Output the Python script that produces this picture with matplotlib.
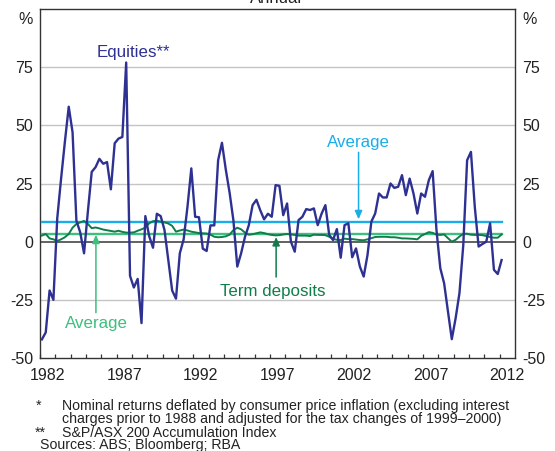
import numpy as np
import matplotlib
matplotlib.use("Agg")
import matplotlib.pyplot as plt
from matplotlib.ticker import FixedLocator
from matplotlib import transforms

plt.rcParams['font.family'] = ['Liberation Sans', 'DejaVu Sans']
plt.rcParams['axes.unicode_minus'] = False

# ---------------- data ----------------
start_year = 1982          # first quarter: 1982 Q1, quarterly to 2012 Q1
equities = [
    -42, -39, -21, -25,
    10, 27, 43, 58,
    47, 9, 4, -5,
    13, 30, 32, 35.6,
    33.5, 34.2, 22.5, 42.3,
    44.3, 45, 77, -14.7,
    -19.7, -16, -35, 11,
    2.4, -2.6, 12, 11,
    5, -8, -21, -24.5,
    -5, 1, 15, 31.5,
    10.7, 10.5, -3, -4,
    7, 7, 35, 42.5,
    31, 21, 9, -10.7,
    -5, 2, 7, 15.7,
    18, 13.5, 9.6, 12,
    10.7, 24.3, 24, 11.4,
    16.4, 0, -4.3, 9.3,
    10.7, 14, 13.6, 14.3,
    7.1, 12, 15.7, 2.9,
    0.7, 5.4, -6.9, 7.1,
    7.9, -6.7, -2.9, -10.7,
    -15, -5.7, 8.6, 12.1,
    20.7, 19, 19, 25,
    23.1, 23.6, 28.6, 20,
    27.1, 20.7, 12.1, 20.7,
    19.3, 26.4, 30.3, 5,
    -11.4, -17.9, -30, -41.9,
    -32.9, -22.1, -1.4, 35,
    38.6, 15, -2.1, -1,
    0, 7.9, -12.1, -13.9,
    -7.9,
]
term_deposits = [
    2.6, 3.3, 1.4, 1.0,
    0.3, 1.0, 1.9, 3.3,
    6.0, 7.6, 8.3, 8.9,
    7.6, 5.8, 6.1, 5.7,
    5.2, 4.9, 4.6, 4.3,
    4.7, 4.2, 3.9, 3.9,
    4.0, 4.7, 5.3, 6.0,
    7.9, 8.8, 9.0, 8.6,
    8.3, 7.8, 6.8, 4.3,
    4.8, 5.2, 4.8, 4.3,
    4.0, 3.7, 3.6, 3.5,
    3.0, 2.1, 1.9, 2.0,
    2.3, 3.0, 5.0, 6.0,
    5.3, 3.9, 3.0, 3.2,
    3.6, 4.0, 3.7, 3.2,
    2.9, 2.7, 2.8, 3.1,
    3.3, 3.1, 2.9, 2.6,
    2.6, 2.6, 2.4, 3.0,
    2.9, 2.9, 2.8, 2.1,
    1.2, 0.8, 0.7, 1.3,
    1.1, 1.1, 0.9, 0.7,
    0.6, 1.0, 1.5, 2.0,
    2.1, 2.1, 2.1, 1.9,
    1.9, 1.7, 1.4, 1.4,
    1.3, 1.2, 1.0, 2.5,
    3.3, 4.1, 3.8, 3.0,
    2.9, 3.1, 1.5, 0.0,
    0.8, 2.2, 3.4, 3.4,
    3.0, 2.9, 2.9, 2.8,
    2.4, 2.0, 1.7, 1.7,
    3.1,
]
equities_average = 8.6
term_deposits_average = 3.5

year_labels = ['1982', '1987', '1992', '1997', '2002', '2007', '2012']
y_ticks = [-50, -25, 0, 25, 50, 75]

# ---------------- styles ----------------
C_EQ = '#2e3192'
C_EQ_AVG = '#1badE8'
C_TD = '#0f7d4a'
C_TD_AVG = '#3dbf7d'
C_GRID = '#c4c4c4'
C_AXIS = '#333333'

n = len(equities)
x = start_year + 0.125 + 0.25 * np.arange(n)

fig = plt.figure(figsize=(5.55, 4.51), dpi=100)
ax = fig.add_axes([40/555, 1-358/451, 475/555, 349/451])

ax.set_xlim(1982, 2013)
ax.set_ylim(-50, 100)

for v in [75, 50, 25, -25]:
    ax.axhline(v, color=C_GRID, lw=1.0, zorder=1)
ax.axhline(0, color='#555555', lw=1.3, zorder=2)

ax.plot([x[0], x[-1]], [equities_average]*2, color=C_EQ_AVG, lw=1.7, zorder=3)
ax.plot([x[0], x[-1]], [term_deposits_average]*2, color=C_TD_AVG, lw=1.7, zorder=3)
ax.plot(x, term_deposits, color=C_TD, lw=1.4, zorder=4)
ax.plot(x, equities, color=C_EQ, lw=1.7, zorder=5)

# axes ticks
first = int(year_labels[0]); last = int(year_labels[-1])
ax.xaxis.set_major_locator(FixedLocator([int(y) + 0.5 for y in year_labels]))
ax.set_xticklabels(year_labels)
ax.xaxis.set_minor_locator(FixedLocator(np.arange(first, last + 1)))
ax.tick_params(axis='x', which='major', length=0, pad=7.5, labelsize=11.5, colors='#222222')
ax.tick_params(axis='x', which='minor', direction='in', length=2.6, width=0.9, color=C_AXIS)

ax.set_yticks(y_ticks)
ax.set_yticklabels([str(v) for v in y_ticks])
ax.tick_params(axis='y', which='both', length=0, pad=5, labelsize=11.5,
               labelleft=True, labelright=True, colors='#222222')

for s in ax.spines.values():
    s.set_color(C_AXIS)
    s.set_linewidth(1.0)

# percent signs
blend_l = transforms.blended_transform_factory(ax.transAxes, ax.transData)
ax.text(-7/475, 95.5, '%', transform=blend_l, ha='right', va='center', fontsize=11.5, color='#222222')
ax.text(1 + 7/475, 95.5, '%', transform=blend_l, ha='left', va='center', fontsize=11.5, color='#222222')

# annotations
arrow_style = '-|>,head_length=0.5,head_width=0.22'
ax.text(1988.07, 79.2, 'Equities**', color=C_EQ, fontsize=12.2, ha='center', va='baseline')
ax.text(2002.79, 40.7, 'Average', color=C_EQ_AVG, fontsize=12.2, ha='center', va='baseline')
ax.annotate('', xy=(2002.79, 9.6), xytext=(2002.79, 38.4),
            arrowprops=dict(arrowstyle=arrow_style, color=C_EQ_AVG,
                            lw=1.1, shrinkA=0, shrinkB=0, mutation_scale=10))
ax.text(1985.67, -37.1, 'Average', color=C_TD_AVG, fontsize=12.2, ha='center', va='baseline')
ax.annotate('', xy=(1985.65, 3.0), xytext=(1985.65, -30.5),
            arrowprops=dict(arrowstyle=arrow_style, color=C_TD_AVG,
                            lw=1.1, shrinkA=0, shrinkB=0, mutation_scale=10))
ax.text(1997.2, -23.5, 'Term deposits', color=C_TD, fontsize=12.2, ha='center', va='baseline')
ax.annotate('', xy=(1997.41, 2.0), xytext=(1997.41, -15.2),
            arrowprops=dict(arrowstyle=arrow_style, color=C_TD,
                            lw=1.1, shrinkA=0, shrinkB=0, mutation_scale=10))

# title (cut at the top edge, as in the reference)
fig.text(276/555, 1 - 2.8/451, 'Annual', ha='center', va='baseline', fontsize=12, color='#222222')

# footnotes
fs = 10.2
def fy(px):
    return 1 - px/451
fig.text(36/555, fy(410), '*', fontsize=fs, va='baseline', color='#222222')
fig.text(61.7/555, fy(410), 'Nominal returns deflated by consumer price inflation (excluding interest',
         fontsize=fs, va='baseline', color='#222222')
fig.text(61.7/555, fy(423.3), 'charges prior to 1988 and adjusted for the tax changes of 1999\u20132000)',
         fontsize=fs, va='baseline', color='#222222')
fig.text(35/555, fy(436.6), '**', fontsize=fs, va='baseline', color='#222222')
fig.text(61.7/555, fy(436.6), 'S&P/ASX 200 Accumulation Index', fontsize=fs, va='baseline', color='#222222')
fig.text(40/555, fy(449.5), 'Sources: ABS; Bloomberg; RBA', fontsize=fs, va='baseline', color='#222222')

fig.savefig('out.png', dpi=100)
